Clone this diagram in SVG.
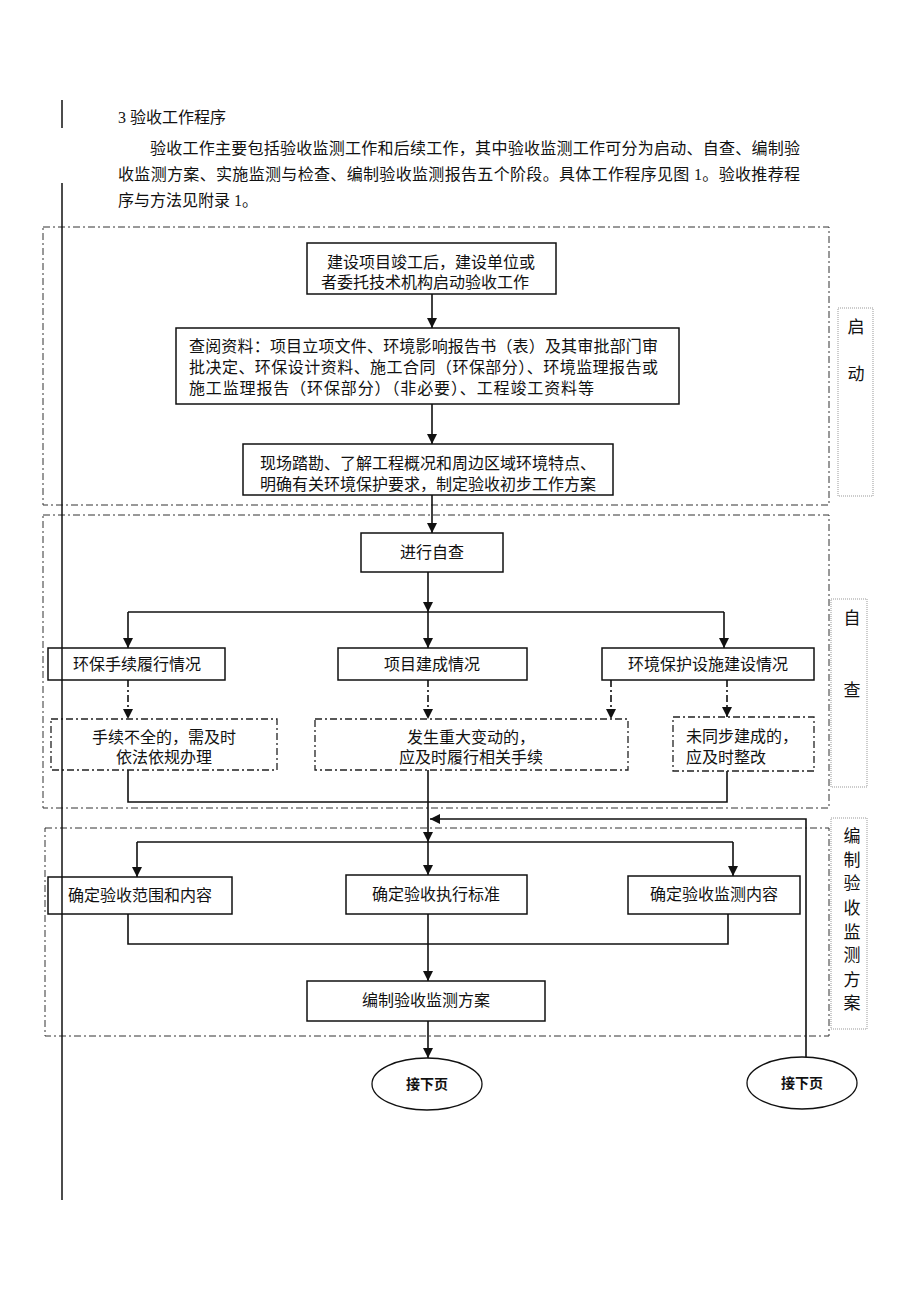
<svg xmlns="http://www.w3.org/2000/svg" width="920" height="1302" viewBox="0 0 920 1302">
<style>
text{font-family:"Liberation Serif","Noto Sans CJK SC",serif;font-size:16px;fill:#111}
.c{text-anchor:middle}
.box{fill:#fff;stroke:#111;stroke-width:1.5}
.dbox{fill:#fff;stroke:#222;stroke-width:1.3;stroke-dasharray:7 3 2 3}
.zone{fill:none;stroke:#333;stroke-width:1;stroke-dasharray:7 3 2 3}
.lab{fill:#fff;stroke:#999;stroke-width:1;stroke-dasharray:1 1}
.ln{fill:none;stroke:#111;stroke-width:1.6}
.dl{fill:none;stroke:#111;stroke-width:1.6;stroke-dasharray:7 3 2 3}
.el{fill:#fff;stroke:#111;stroke-width:1.3}
.et{font-family:"Liberation Sans","Noto Sans CJK SC",sans-serif;font-size:14px;font-weight:bold}
.lt{font-size:17px}
</style>
<defs>
<marker id="arr" markerUnits="userSpaceOnUse" markerWidth="10" markerHeight="10" refX="10" refY="5" orient="auto">
<path d="M0,0 L10,5 L0,10 z" fill="#111"/>
</marker>
</defs>
<rect width="920" height="1302" fill="#fff"/>
<g id="heading">
<text x="118" y="123">3 验收工作程序</text>
<text x="150" y="154" textLength="650" lengthAdjust="spacing">验收工作主要包括验收监测工作和后续工作，其中验收监测工作可分为启动、自查、编制验</text>
<text x="118" y="180" textLength="682" lengthAdjust="spacing">收监测方案、实施监测与检查、编制验收监测报告五个阶段。具体工作程序见图 1。验收推荐程</text>
<text x="118" y="206">序与方法见附录 1。</text>
</g>
<g id="zones">
<rect class="zone" x="43" y="227" width="786" height="278"/>
<rect class="zone" x="43" y="515" width="786" height="293"/>
<rect class="zone" x="45" y="828" width="784" height="208"/>
</g>
<g id="label-qidong">
<rect class="lab" x="838" y="308" width="35" height="188"/>
<text class="c lt" x="856" y="333">启</text>
<text class="c lt" x="856" y="380">动</text>
</g>
<g id="label-zicha">
<rect class="lab" x="831" y="599" width="36" height="188"/>
<text class="c lt" x="852" y="624">自</text>
<text class="c lt" x="852" y="696">查</text>
</g>
<g id="label-bianzhi">
<rect class="lab" x="831" y="818" width="36" height="211"/>
<text class="c lt" x="852" y="842">编</text>
<text class="c lt" x="852" y="866">制</text>
<text class="c lt" x="852" y="889">验</text>
<text class="c lt" x="852" y="914">收</text>
<text class="c lt" x="852" y="938">监</text>
<text class="c lt" x="852" y="961">测</text>
<text class="c lt" x="852" y="986">方</text>
<text class="c lt" x="852" y="1009">案</text>
</g>
<g id="connectors">
<line class="ln" x1="432" y1="294" x2="432" y2="328" marker-end="url(#arr)"/>
<line class="ln" x1="432" y1="404" x2="432" y2="444" marker-end="url(#arr)"/>
<line class="ln" x1="432" y1="495" x2="432" y2="533" marker-end="url(#arr)"/>
<line class="ln" x1="428" y1="572" x2="428" y2="612" marker-end="url(#arr)"/>
<line class="ln" x1="128" y1="612" x2="724" y2="612"/>
<path class="ln" d="M128,612 V648" marker-end="url(#arr)"/>
<path class="ln" d="M428,612 V648" marker-end="url(#arr)"/>
<path class="ln" d="M724,612 V648" marker-end="url(#arr)"/>
<path class="dl" d="M128,680 V719" marker-end="url(#arr)"/>
<path class="dl" d="M428,680 V719" marker-end="url(#arr)"/>
<path class="dl" d="M611,680 V719" marker-end="url(#arr)"/>
<path class="dl" d="M727,680 V717" marker-end="url(#arr)"/>
<path class="ln" d="M128,770 V802 H727 V771"/>
<path class="ln" d="M428,770 V842" marker-end="url(#arr)"/>
<path class="ln" d="M806,1058 V819 H430" marker-end="url(#arr)"/>
<line class="ln" x1="137" y1="842" x2="733" y2="842"/>
<path class="ln" d="M137,842 V877" marker-end="url(#arr)"/>
<path class="ln" d="M428,842 V875" marker-end="url(#arr)"/>
<path class="ln" d="M733,842 V876" marker-end="url(#arr)"/>
<path class="ln" d="M128,914 V944 H728 V914"/>
<path class="ln" d="M428,914 V981" marker-end="url(#arr)"/>
<path class="ln" d="M428,1021 V1058" marker-end="url(#arr)"/>
</g>
<g id="n-start">
<rect class="box" x="307" y="243" width="249" height="51"/>
<text class="c" x="431" y="268">建设项目竣工后，建设单位或</text>
<text class="c" x="425" y="288">者委托技术机构启动验收工作</text>
</g>
<g id="n-review">
<rect class="box" x="176" y="328" width="503" height="76"/>
<text x="189" y="352" textLength="469" lengthAdjust="spacing">查阅资料：项目立项文件、环境影响报告书（表）及其审批部门审</text>
<text x="189" y="373" textLength="469" lengthAdjust="spacing">批决定、环保设计资料、施工合同（环保部分）、环境监理报告或</text>
<text x="189" y="394" textLength="405" lengthAdjust="spacing">施工监理报告（环保部分）（非必要）、工程竣工资料等</text>
</g>
<g id="n-survey">
<rect class="box" x="243" y="444" width="370" height="51"/>
<text class="c" x="428" y="469">现场踏勘、了解工程概况和周边区域环境特点、</text>
<text class="c" x="428" y="490">明确有关环境保护要求，制定验收初步工作方案</text>
</g>
<g id="n-selfcheck">
<rect class="box" x="361" y="533" width="142" height="39"/>
<text class="c" x="432" y="558">进行自查</text>
</g>
<g id="n-proc">
<rect class="box" x="48" y="648" width="177" height="32"/>
<text class="c" x="137" y="670">环保手续履行情况</text>
</g>
<g id="n-build">
<rect class="box" x="338" y="648" width="189" height="32"/>
<text class="c" x="432" y="670">项目建成情况</text>
</g>
<g id="n-facility">
<rect class="box" x="602" y="648" width="212" height="32"/>
<text class="c" x="708" y="670">环境保护设施建设情况</text>
</g>
<g id="n-proc-fix">
<rect class="dbox" x="51" y="719" width="226" height="51"/>
<text class="c" x="164" y="743">手续不全的，需及时</text>
<text class="c" x="164" y="763">依法依规办理</text>
</g>
<g id="n-build-fix">
<rect class="dbox" x="315" y="719" width="313" height="51"/>
<text class="c" x="471" y="743">发生重大变动的，</text>
<text class="c" x="471" y="763">应及时履行相关手续</text>
</g>
<g id="n-facility-fix">
<rect class="dbox" x="673" y="717" width="141" height="54"/>
<text x="686" y="742">未同步建成的，</text>
<text x="686" y="763">应及时整改</text>
</g>
<g id="n-scope">
<rect class="box" x="48" y="877" width="184" height="37"/>
<text class="c" x="140" y="901">确定验收范围和内容</text>
</g>
<g id="n-standard">
<rect class="box" x="346" y="875" width="181" height="39"/>
<text class="c" x="436" y="900">确定验收执行标准</text>
</g>
<g id="n-content">
<rect class="box" x="628" y="876" width="172" height="38"/>
<text class="c" x="714" y="900">确定验收监测内容</text>
</g>
<g id="n-plan">
<rect class="box" x="307" y="981" width="238" height="40"/>
<text class="c" x="426" y="1006">编制验收监测方案</text>
</g>
<g id="n-next1">
<ellipse class="el" cx="427" cy="1084" rx="55" ry="26"/>
<text class="c et" x="427" y="1089">接下页</text>
</g>
<g id="n-next2">
<ellipse class="el" cx="802" cy="1083" rx="55" ry="26"/>
<text class="c et" x="802" y="1088">接下页</text>
</g>
<g id="margin">
<line x1="62" y1="100" x2="62" y2="128" stroke="#111" stroke-width="1.5"/>
<line x1="62" y1="183" x2="62" y2="1200" stroke="#111" stroke-width="1.5"/>
</g>
</svg>
